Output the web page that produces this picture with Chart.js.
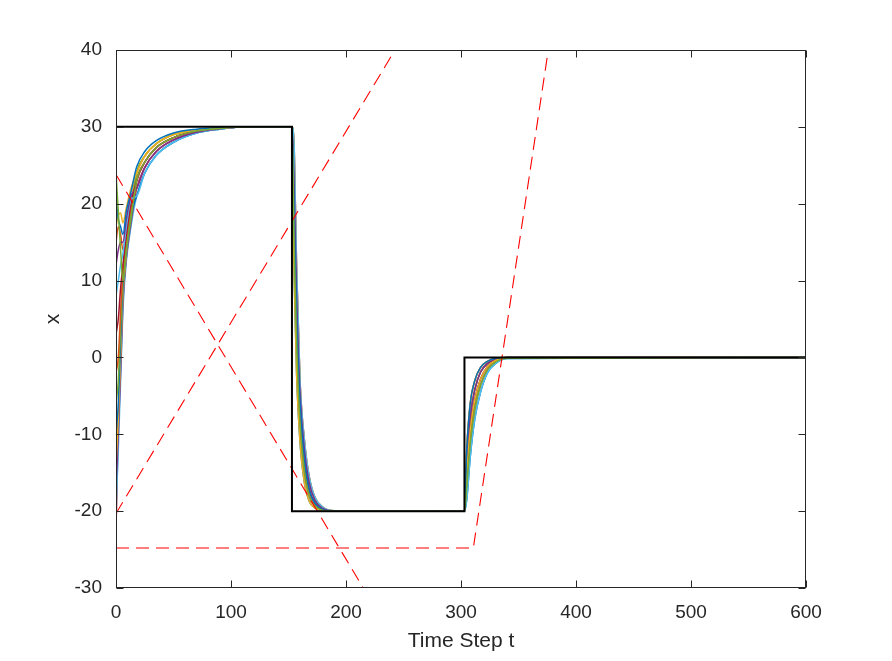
<!DOCTYPE html>
<html>
<head>
<meta charset="utf-8">
<title>Time Step t</title>
<script src="https://cdn.jsdelivr.net/npm/chart.js@4/dist/chart.umd.min.js"></script>
<style>
  html, body { margin: 0; padding: 0; background: #fff; }
  #wrap { width: 892px; height: 661px; position: relative; }
</style>
</head>
<body>
<div id="wrap"><canvas id="chart"></canvas></div>
<script>
// Sample times shared by every agent trajectory
const time = [0, 2, 4, 6, 9, 13, 18, 25, 35, 50, 70, 90, 115, 153, 155, 157, 160, 164, 168, 173, 180, 190, 303, 305, 308, 312, 317, 323, 330, 340, 600];

// Agent states x
const agent01 = [24, 19, 14, 10, 14, 18, 23, 25.4, 27.3, 28.6, 29.45, 29.8, 30, 30, 14, 2, -8.5, -15, -18, -19.3, -19.9, -20, -20, -16.8, -11.2, -6.7, -3.6, -1.6, -0.6, -0.1, 0];
const agent02 = [21, 18, 17, 16, 19, 21.5, 24.8, 26.8, 28.2, 29.2, 29.7, 29.9, 30, 30, 18, 5, -6, -13.5, -17.2, -19, -19.8, -20, -20, -12, -6, -3, -1.3, -0.5, -0.1, 0, 0];
const agent03 = [17, 18.5, 18.8, 17.5, 19.5, 22, 24, 26.2, 27.8, 29, 29.6, 29.85, 30, 30, 10, -2, -11, -16.5, -18.7, -19.6, -19.95, -20, -20, -15, -9.5, -5.5, -2.8, -1.2, -0.4, -0.05, 0];
const agent04 = [12, 14, 15, 15, 18, 21, 22, 24.7, 26.8, 28.3, 29.3, 29.75, 30, 30, 22, 8.5, -4.5, -12.2, -16.3, -18.6, -19.65, -20, -20, -13.5, -7.8, -4.2, -1.9, -0.8, -0.25, 0, 0];
const agent05 = [8, 10, 12, 13.5, 17, 20.5, 21, 24, 26.3, 28, 29.2, 29.7, 30, 30, 27, 12, -3, -11, -15.5, -18.2, -19.5, -19.95, -20, -18.5, -13, -8, -4.5, -2, -0.8, -0.15, 0];
const agent06 = [3, 5, 9, 12, 16, 20, 23, 25.4, 27.3, 28.6, 29.45, 29.8, 30, 30, 18, 5, -6, -13.5, -17.2, -19, -19.8, -20, -20, -15, -9.5, -5.5, -2.8, -1.2, -0.4, -0.05, 0];
const agent07 = [-2, 0, 6, 11, 15.5, 19.5, 22, 24.7, 26.8, 28.3, 29.3, 29.75, 30, 30, 14, 2, -8.5, -15, -18, -19.3, -19.9, -20, -20, -16.8, -11.2, -6.7, -3.6, -1.6, -0.6, -0.1, 0];
const agent08 = [-6, -3, 4, 10, 15, 19, 24, 26.2, 27.8, 29, 29.6, 29.85, 30, 30, 22, 8.5, -4.5, -12.2, -16.3, -18.6, -19.65, -20, -20, -13.5, -7.8, -4.2, -1.9, -0.8, -0.25, 0, 0];
const agent09 = [-10, -6, 2, 9, 14, 18.5, 21, 24, 26.3, 28, 29.2, 29.7, 30, 30, 10, -2, -11, -16.5, -18.7, -19.6, -19.95, -20, -20, -18.5, -13, -8, -4.5, -2, -0.8, -0.15, 0];
const agent10 = [-14, -8, 0, 8, 13.5, 20, 24, 26.2, 27.8, 29, 29.6, 29.85, 30, 30, 27, 12, -3, -11, -15.5, -18.2, -19.5, -19.95, -20, -12, -6, -3, -1.3, -0.5, -0.1, 0, 0];
const agent11 = [-17, -10, -2, 7, 13, 17.5, 22, 24.7, 26.8, 28.3, 29.3, 29.75, 30, 30, 18, 5, -6, -13.5, -17.2, -19, -19.8, -20, -20, -15, -9.5, -5.5, -2.8, -1.2, -0.4, -0.05, 0];
const agent12 = [-20, -12, -3, 6, 12.5, 17, 21, 24, 26.3, 28, 29.2, 29.7, 30, 30, 22, 8.5, -4.5, -12.2, -16.3, -18.6, -19.65, -20, -20, -16.8, -11.2, -6.7, -3.6, -1.6, -0.6, -0.1, 0];
const agent13 = [-22.5, -9, 1, 8, 13, 17.5, 23, 25.4, 27.3, 28.6, 29.45, 29.8, 30, 30, 27, 12, -3, -11, -15.5, -18.2, -19.5, -19.95, -20, -13.5, -7.8, -4.2, -1.9, -0.8, -0.25, 0, 0];
const agent14 = [15, 17, 16, 14, 17, 20, 24, 26.2, 27.8, 29, 29.6, 29.85, 30, 30, 14, 2, -8.5, -15, -18, -19.3, -19.9, -20, -20, -12, -6, -3, -1.3, -0.5, -0.1, 0, 0];
const agents = [agent01, agent02, agent03, agent04, agent05, agent06, agent07, agent08, agent09, agent10, agent11, agent12, agent13, agent14];

// Default line colour order
const agentColors = ['#77AC30', '#0072BD', '#EDB120', '#7E2F8E', '#4DBEEE', '#A2142F', '#D95319'];

// Reference signal (black)
const refX = [0, 153, 153, 303, 303, 600];
const refY = [30, 30, -20, -20, 0, 0];

// Red dashed bounds
const boundAX = [0, 215];
const boundAY = [23.8, -30];
const boundBX = [0, 242.6];
const boundBY = [-20.3, 40];
const boundCX = [0, 310.7, 375.9];
const boundCY = [-24.8, -24.8, 40];

// Tick labels
const xTicks = [0, 100, 200, 300, 400, 500, 600];
const yTicks = [-30, -20, -10, 0, 10, 20, 30, 40];

const FONT = '"Liberation Sans", Arial, Helvetica, sans-serif';
const TEXT = '#262626';

const toPoints = (xs, ys) => xs.map((x, i) => ({ x, y: ys[i] }));

const lineSet = (data, color, width, extra) => ({
  data,
  borderColor: color,
  borderWidth: width,
  pointRadius: 0,
  showLine: true,
  fill: false,
  tension: 0,
  ...extra,
});

const datasets = [
  lineSet(toPoints(refX, refY), '#000000', 2),
  lineSet(toPoints(boundAX, boundAY), '#FF0000', 1.1, { borderDash: [13, 7] }),
  lineSet(toPoints(boundBX, boundBY), '#FF0000', 1.1, { borderDash: [13, 7] }),
  lineSet(toPoints(boundCX, boundCY), '#FF0000', 1.1, { borderDash: [13, 7] }),
  ...agents.map((a, i) =>
    lineSet(toPoints(time, a), agentColors[i % agentColors.length], 1.5, {
      cubicInterpolationMode: 'monotone',
    }),
  ),
];

// Axes box with inward ticks on all four sides
const boxPlugin = {
  id: 'box',
  afterDraw(chart) {
    const { ctx, chartArea: a, scales } = chart;
    const L = Math.round(a.left) + 0.5;
    const R = Math.round(a.right) - 0.5;
    const T = Math.round(a.top) + 0.5;
    const B = Math.round(a.bottom) - 0.5;
    const len = 7;
    ctx.save();
    ctx.strokeStyle = TEXT;
    ctx.lineWidth = 1;
    ctx.strokeRect(L, T, R - L, B - T);
    ctx.beginPath();
    xTicks.forEach((v) => {
      const px = Math.round(scales.x.getPixelForValue(v)) + 0.5;
      ctx.moveTo(px, B);
      ctx.lineTo(px, B - len);
      ctx.moveTo(px, T);
      ctx.lineTo(px, T + len);
    });
    yTicks.forEach((v) => {
      const py = Math.round(scales.y.getPixelForValue(v)) + 0.5;
      ctx.moveTo(L, py);
      ctx.lineTo(L + len, py);
      ctx.moveTo(R, py);
      ctx.lineTo(R - len, py);
    });
    ctx.stroke();
    ctx.restore();
  },
};

new Chart(document.getElementById('chart'), {
  type: 'scatter',
  data: { datasets },
  options: {
    responsive: true,
    maintainAspectRatio: false,
    animation: false,
    layout: { padding: { top: 50, right: 86, left: 0, bottom: 0 } },
    plugins: {
      legend: { display: false },
      tooltip: { enabled: false },
    },
    scales: {
      x: {
        type: 'linear',
        min: 0,
        max: 600,
        afterBuildTicks: (s) => { s.ticks = xTicks.map((value) => ({ value })); },
        afterFit: (s) => { s.height = 73; },
        grid: { display: false },
        border: { display: false },
        ticks: { padding: 5, color: TEXT, font: { family: FONT, size: 19 } },
        title: {
          display: true,
          text: 'Time Step t',
          color: TEXT,
          font: { family: FONT, size: 21 },
          padding: { top: 0, bottom: 7 },
        },
      },
      y: {
        type: 'linear',
        min: -30,
        max: 40,
        afterBuildTicks: (s) => { s.ticks = yTicks.map((value) => ({ value })); },
        afterFit: (s) => { s.width = 116; },
        grid: { display: false },
        border: { display: false },
        ticks: { padding: 6, color: TEXT, font: { family: FONT, size: 19 } },
        title: {
          display: true,
          text: 'x',
          color: TEXT,
          font: { family: FONT, size: 21 },
          padding: { top: 41, bottom: 0 },
        },
      },
    },
  },
  plugins: [boxPlugin],
});
</script>
</body>
</html>
